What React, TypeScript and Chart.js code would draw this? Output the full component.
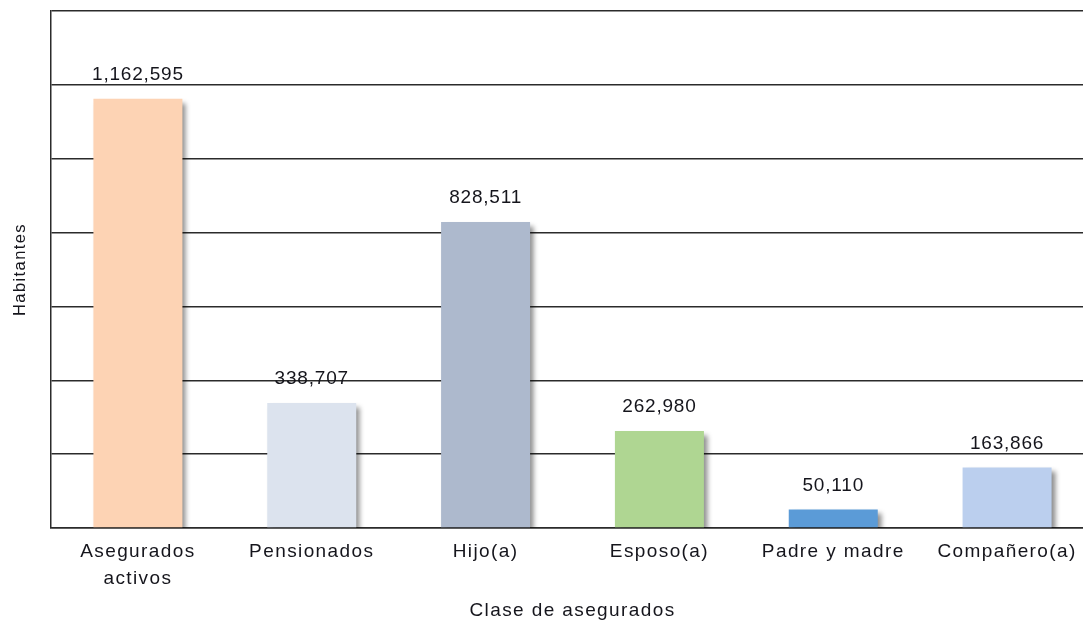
import React, { useEffect, useRef } from "react";
import { Chart, registerables } from "chart.js";

Chart.register(...registerables);

const categories: (string | string[])[] = [
  ["Asegurados", "activos"],
  "Pensionados",
  "Hijo(a)",
  "Esposo(a)",
  "Padre y madre",
  "Compañero(a)",
];
const values: number[] = [1162595, 338707, 828511, 262980, 50110, 163866];
const barColors: string[] = ["#FDD3B4", "#DCE3EE", "#ADB9CD", "#AFD692", "#5B9BD7", "#BBCFEE"];
const yMin = 0;
const yMax = 1400000;
const yStep = 200000;
const yTitle = "Habitantes";
const xTitle = "Clase de asegurados";

const FONT = "'Liberation Sans', Arial, sans-serif";
const TEXT = "#15151c";
const GRID = "#2b2b2b";

export default function App() {
  const ref = useRef<HTMLCanvasElement | null>(null);

  useEffect(() => {
    if (!ref.current) return;

    const spacingPlugin = {
      id: "spacing",
      beforeLayout(chart: any) {
        (chart.ctx as any).letterSpacing = "1.4px";
      },
      beforeDraw(chart: any) {
        (chart.ctx as any).letterSpacing = "1.4px";
      },
    };

    const shadowPlugin = {
      id: "shadow",
      beforeDatasetsDraw(chart: any) {
        const ctx = chart.ctx;
        ctx.save();
        ctx.shadowColor = "rgba(0,0,0,0.45)";
        ctx.shadowOffsetX = 4;
        ctx.shadowOffsetY = 4;
        ctx.shadowBlur = 5;
      },
      afterDatasetsDraw(chart: any) {
        chart.ctx.restore();
        const ctx = chart.ctx;
        const meta = chart.getDatasetMeta(0);
        ctx.save();
        (ctx as any).letterSpacing = "0.8px";
        ctx.font = `19px ${FONT}`;
        ctx.fillStyle = TEXT;
        ctx.textAlign = "center";
        ctx.textBaseline = "middle";
        meta.data.forEach((bar: any, i: number) => {
          ctx.fillText(values[i].toLocaleString("en-US"), bar.x, bar.y - 24);
        });
        ctx.restore();
      },
    };

    const chart = new Chart(ref.current, {
      type: "bar",
      data: {
        labels: categories,
        datasets: [
          {
            data: values,
            backgroundColor: barColors,
            borderWidth: 0,
            categoryPercentage: 1,
            barPercentage: 0.512,
          },
        ],
      },
      options: {
        responsive: false,
        animation: false,
        devicePixelRatio: 1,
        layout: { padding: { top: 11, right: 6, left: 0, bottom: 0 } },
        plugins: {
          legend: { display: false },
          tooltip: { enabled: false },
        },
        scales: {
          x: {
            grid: { display: false, drawTicks: false },
            border: { display: true, color: GRID, width: 1.5 },
            ticks: {
              color: TEXT,
              font: { family: FONT, size: 19, lineHeight: 1.42 },
              padding: 10,
              maxRotation: 0,
              autoSkip: false,
            },
            title: {
              display: true,
              text: xTitle,
              color: TEXT,
              font: { family: FONT, size: 19, lineHeight: 1.2 },
              padding: { top: 0, bottom: 1.5 },
            },
            afterFit(scale: any) {
              scale.height = 96;
            },
          },
          y: {
            min: yMin,
            max: yMax,
            ticks: { display: false, stepSize: yStep },
            grid: { color: GRID, lineWidth: 1.5, drawTicks: false },
            border: { display: true, color: GRID, width: 1.5 },
            title: {
              display: true,
              text: yTitle,
              color: TEXT,
              font: { family: FONT, size: 16.5, lineHeight: 1.2 },
              padding: { top: 11, bottom: 0 },
            },
            afterFit(scale: any) {
              scale.width = 51;
            },
          },
        },
      },
      plugins: [spacingPlugin, shadowPlugin],
    } as any);

    return () => chart.destroy();
  }, []);

  return (
    <div
      style={{
        position: "fixed",
        left: 0,
        top: 0,
        width: 1083,
        height: 624,
        overflow: "hidden",
        background: "#fff",
      }}
    >
      <canvas ref={ref} width={1100} height={624} style={{ display: "block" }} />
    </div>
  );
}
